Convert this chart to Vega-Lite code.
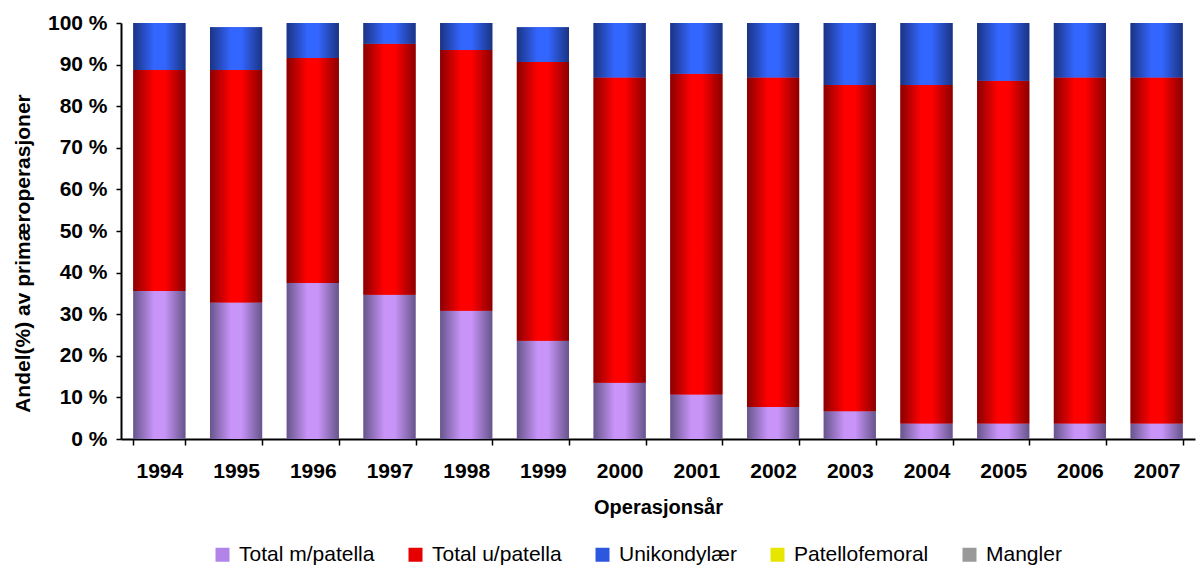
{
  "$schema": "https://vega.github.io/schema/vega-lite/v6.json",
  "autosize": {"type": "none"},
  "padding": {"left": 121, "top": 23, "right": 2, "bottom": 127},
  "width": 1074,
  "height": 416,
  "background": "white",
  "config": {"view": {"stroke": null}, "font": "Liberation Sans"},
  "data": {"values": [
    {"year": "1994", "type": "Total m/patella", "o": 1, "v": 35.6},
    {"year": "1994", "type": "Total u/patella", "o": 2, "v": 53.1},
    {"year": "1994", "type": "Unikondylær", "o": 3, "v": 11.3},
    {"year": "1995", "type": "Total m/patella", "o": 1, "v": 32.8},
    {"year": "1995", "type": "Total u/patella", "o": 2, "v": 55.9},
    {"year": "1995", "type": "Unikondylær", "o": 3, "v": 10.3},
    {"year": "1996", "type": "Total m/patella", "o": 1, "v": 37.5},
    {"year": "1996", "type": "Total u/patella", "o": 2, "v": 54.1},
    {"year": "1996", "type": "Unikondylær", "o": 3, "v": 8.4},
    {"year": "1997", "type": "Total m/patella", "o": 1, "v": 34.7},
    {"year": "1997", "type": "Total u/patella", "o": 2, "v": 60.3},
    {"year": "1997", "type": "Unikondylær", "o": 3, "v": 5.0},
    {"year": "1998", "type": "Total m/patella", "o": 1, "v": 30.8},
    {"year": "1998", "type": "Total u/patella", "o": 2, "v": 62.7},
    {"year": "1998", "type": "Unikondylær", "o": 3, "v": 6.5},
    {"year": "1999", "type": "Total m/patella", "o": 1, "v": 23.6},
    {"year": "1999", "type": "Total u/patella", "o": 2, "v": 67.0},
    {"year": "1999", "type": "Unikondylær", "o": 3, "v": 8.4},
    {"year": "2000", "type": "Total m/patella", "o": 1, "v": 13.5},
    {"year": "2000", "type": "Total u/patella", "o": 2, "v": 73.4},
    {"year": "2000", "type": "Unikondylær", "o": 3, "v": 13.1},
    {"year": "2001", "type": "Total m/patella", "o": 1, "v": 10.7},
    {"year": "2001", "type": "Total u/patella", "o": 2, "v": 77.1},
    {"year": "2001", "type": "Unikondylær", "o": 3, "v": 12.2},
    {"year": "2002", "type": "Total m/patella", "o": 1, "v": 7.7},
    {"year": "2002", "type": "Total u/patella", "o": 2, "v": 79.2},
    {"year": "2002", "type": "Unikondylær", "o": 3, "v": 13.1},
    {"year": "2003", "type": "Total m/patella", "o": 1, "v": 6.7},
    {"year": "2003", "type": "Total u/patella", "o": 2, "v": 78.4},
    {"year": "2003", "type": "Unikondylær", "o": 3, "v": 14.9},
    {"year": "2004", "type": "Total m/patella", "o": 1, "v": 3.7},
    {"year": "2004", "type": "Total u/patella", "o": 2, "v": 81.4},
    {"year": "2004", "type": "Unikondylær", "o": 3, "v": 14.9},
    {"year": "2005", "type": "Total m/patella", "o": 1, "v": 3.7},
    {"year": "2005", "type": "Total u/patella", "o": 2, "v": 82.4},
    {"year": "2005", "type": "Unikondylær", "o": 3, "v": 13.9},
    {"year": "2006", "type": "Total m/patella", "o": 1, "v": 3.7},
    {"year": "2006", "type": "Total u/patella", "o": 2, "v": 83.2},
    {"year": "2006", "type": "Unikondylær", "o": 3, "v": 13.1},
    {"year": "2007", "type": "Total m/patella", "o": 1, "v": 3.7},
    {"year": "2007", "type": "Total u/patella", "o": 2, "v": 83.2},
    {"year": "2007", "type": "Unikondylær", "o": 3, "v": 13.1},
    {"year": "2007", "type": "Patellofemoral", "o": 4, "v": 0},
    {"year": "2007", "type": "Mangler", "o": 5, "v": 0}
  ]},
  "encoding": {
    "x": {
      "field": "year", "type": "ordinal",
      "scale": {"paddingInner": 0.32, "paddingOuter": 0.16},
      "axis": {
        "title": "Operasjonsår", "titleFont": "Liberation Sans", "titleFontSize": 20, "titleFontWeight": "bold",
        "titleColor": "black", "titlePadding": 16,
        "labelAngle": 0, "labelFontSize": 21, "labelFontWeight": "bold", "labelColor": "black", "labelPadding": 15,
        "domainColor": "black", "domainWidth": 2, "tickColor": "black", "tickWidth": 1.5, "tickSize": 6,
        "tickBand": "extent", "grid": false
      }
    },
    "y": {
      "field": "v", "type": "quantitative", "stack": "zero",
      "scale": {"domain": [0, 100], "nice": false},
      "axis": {
        "title": "Andel(%) av primæroperasjoner", "titleFontSize": 21, "titleFontWeight": "bold", "titleColor": "black",
        "titlePadding": 14, "titleY": 230,
        "values": [0, 10, 20, 30, 40, 50, 60, 70, 80, 90, 100],
        "labelExpr": "datum.value + ' %'", "labelFontSize": 21, "labelFontWeight": "bold", "labelColor": "black",
        "labelPadding": 9,
        "domainColor": "black", "domainWidth": 2, "tickColor": "black", "tickWidth": 1.5, "tickSize": 5, "grid": false
      }
    },
    "order": {"field": "o", "type": "quantitative"}
  },
  "layer": [
    {
      "mark": {"type": "bar"},
      "encoding": {
        "color": {
          "field": "type", "type": "nominal",
          "sort": ["Total m/patella", "Total u/patella", "Unikondylær", "Patellofemoral", "Mangler"],
          "scale": {
            "domain": ["Total m/patella", "Total u/patella", "Unikondylær", "Patellofemoral", "Mangler"],
            "range": ["#b384e8", "#e60000", "#2c58e0", "#e6e600", "#999999"]
          },
          "legend": {
            "title": null, "orient": "none", "direction": "horizontal", "legendX": 91, "legendY": 521, "padding": 0,
            "symbolType": "square", "symbolSize": 196, "symbolStrokeWidth": 0, "symbolOpacity": 1,
            "labelFontSize": 21, "labelColor": "black", "labelFont": "Liberation Sans", "columnPadding": 30, "labelOffset": 6
          }
        }
      }
    },
    {
      "mark": {
        "type": "bar",
        "fill": {"expr": "datum.type === 'Total m/patella' ? {gradient: 'linear', x1: 0, y1: 0, x2: 1, y2: 0, stops: [{offset: 0, color: '#66558a'}, {offset: 0.4, color: '#c894f8'}, {offset: 0.6, color: '#c894f8'}, {offset: 1, color: '#66558a'}]} : datum.type === 'Total u/patella' ? {gradient: 'linear', x1: 0, y1: 0, x2: 1, y2: 0, stops: [{offset: 0, color: '#8a0000'}, {offset: 0.4, color: '#ff0000'}, {offset: 0.6, color: '#ff0000'}, {offset: 1, color: '#8a0000'}]} : {gradient: 'linear', x1: 0, y1: 0, x2: 1, y2: 0, stops: [{offset: 0, color: '#1b3382'}, {offset: 0.4, color: '#3366ff'}, {offset: 0.6, color: '#3366ff'}, {offset: 1, color: '#1b3382'}]}"}
      },
      "encoding": {"detail": {"field": "type", "type": "nominal"}}
    }
  ]
}
